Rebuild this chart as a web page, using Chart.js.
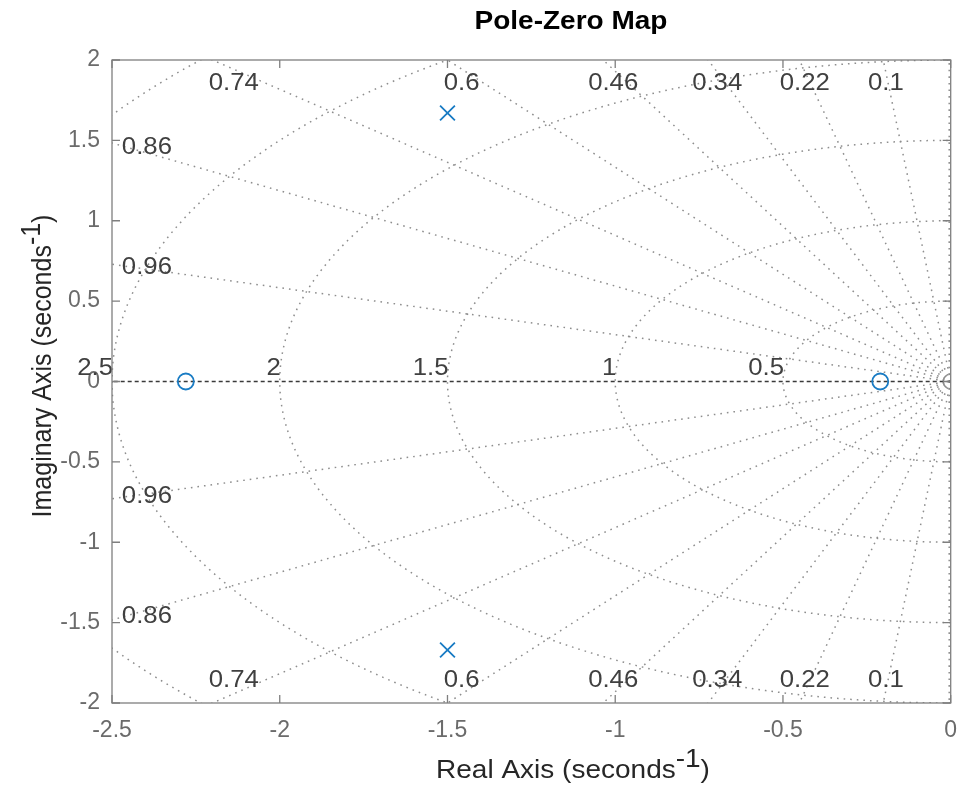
<!DOCTYPE html>
<html><head><meta charset="utf-8">
<script src="https://cdn.jsdelivr.net/npm/chart.js@4/dist/chart.umd.min.js"></script>
<style>html,body{margin:0;padding:0;background:#fff;overflow:hidden}canvas{display:block}</style>
</head><body>
<canvas id="c" width="963" height="786"></canvas>
<script>
// ---- data ----
const poleRe = [-1.5, -1.5];
const poleIm = [1.67, -1.67];
const zeroRe = [-2.28, -0.21];
const zeroIm = [0, 0];
const xTicks = [-2.5, -2, -1.5, -1, -0.5, 0];
const yTicks = [-2, -1.5, -1, -0.5, 0, 0.5, 1, 1.5, 2];
const dampingValues = [0.1, 0.22, 0.34, 0.46, 0.6, 0.74, 0.86, 0.96];
const dampingLabels = ['0.1', '0.22', '0.34', '0.46', '0.6', '0.74', '0.86', '0.96'];
const natFreqValues = [0.5, 1, 1.5, 2, 2.5, 3];
const natFreqLabels = ['0.5', '1', '1.5', '2', '2.5'];

// ---- label anchor layout (data coords, upper half; mirrored below) ----
const dampingLabelAnchors = [[-0.193, 1.851], [-0.435, 1.851], [-0.696, 1.851], [-1.006, 1.851],
  [-1.458, 1.851], [-2.137, 1.851], [-2.396, 1.453], [-2.396, 0.706]];

const FONT = '"Liberation Sans", Arial, Helvetica, sans-serif';
const SX = 1.12;

function sText(ctx, str, x, y, align, sx) {
  ctx.save();
  ctx.translate(x, y);
  ctx.scale(sx, 1);
  ctx.textAlign = align;
  ctx.fillText(str, 0, 0);
  ctx.restore();
}

const gridPlugin = {
  id: 'sgrid',
  beforeDatasetsDraw(chart) {
    const {ctx, chartArea: a, scales: {x, y}} = chart;
    const px = v => x.getPixelForValue(v), py = v => y.getPixelForValue(v);
    ctx.save();
    ctx.beginPath();
    ctx.rect(a.left, a.top, a.right - a.left, a.bottom - a.top);
    ctx.clip();
    ctx.strokeStyle = '#8e8e8e';
    ctx.lineWidth = 1.5;
    ctx.setLineDash([1.6, 5]);
    const R = 8;
    // damping rays
    dampingValues.forEach(z => {
      const s = Math.sqrt(1 - z * z);
      [1, -1].forEach(sg => {
        ctx.beginPath();
        ctx.moveTo(px(0), py(0));
        ctx.lineTo(px(-R * z), py(sg * R * s));
        ctx.stroke();
      });
    });
    // zeta = 0 (imaginary axis)
    [1, -1].forEach(sg => {
      ctx.beginPath();
      ctx.moveTo(px(0) - 1.5, py(0));
      ctx.lineTo(px(0) - 1.5, py(sg * R));
      ctx.stroke();
    });
    // natural frequency semicircles
    natFreqValues.forEach(w => {
      ctx.beginPath();
      for (let i = 0; i <= 360; i++) {
        const t = -Math.PI / 2 + Math.PI * i / 360;
        const xx = px(-w * Math.cos(t)), yy = py(w * Math.sin(t));
        if (i === 0) ctx.moveTo(xx, yy); else ctx.lineTo(xx, yy);
      }
      ctx.stroke();
    });
    // real axis
    ctx.strokeStyle = '#3a3a3a';
    ctx.lineWidth = 1.3;
    ctx.setLineDash([4, 3]);
    ctx.beginPath();
    ctx.moveTo(px(0), py(0));
    ctx.lineTo(px(-R), py(0));
    ctx.stroke();
    ctx.restore();

    // labels
    ctx.save();
    ctx.fillStyle = '#404040';
    ctx.font = '23px ' + FONT;
    ctx.textBaseline = 'middle';
    dampingLabels.forEach((lab, i) => {
      const [lx, ly] = dampingLabelAnchors[i];
      sText(ctx, lab, px(lx), py(ly), 'center', SX);
      sText(ctx, lab, px(lx), py(-ly) + 2, 'center', SX);
    });
    ctx.textBaseline = 'alphabetic';
    natFreqLabels.forEach((lab, i) => {
      sText(ctx, lab, px(-natFreqValues[i]) + 1, py(0) - 7, 'right', SX);
    });
    ctx.restore();
  },
  afterDraw(chart) {
    const {ctx, chartArea: a, scales: {x, y}} = chart;
    ctx.save();
    // box
    ctx.strokeStyle = '#7f7f7f';
    ctx.lineWidth = 1.3;
    ctx.strokeRect(a.left, a.top, a.right - a.left, a.bottom - a.top);
    // inward ticks
    const TL = 8;
    ctx.beginPath();
    xTicks.forEach(v => {
      const p = x.getPixelForValue(v);
      ctx.moveTo(p, a.bottom); ctx.lineTo(p, a.bottom - TL);
      ctx.moveTo(p, a.top); ctx.lineTo(p, a.top + TL);
    });
    yTicks.forEach(v => {
      const p = y.getPixelForValue(v);
      ctx.moveTo(a.left, p); ctx.lineTo(a.left + TL, p);
      ctx.moveTo(a.right, p); ctx.lineTo(a.right - TL, p);
    });
    ctx.stroke();

    // title
    ctx.fillStyle = '#000';
    ctx.font = 'bold 25px ' + FONT;
    ctx.textBaseline = 'alphabetic';
    sText(ctx, 'Pole-Zero Map', 571, 29, 'center', SX);

    // x axis title with superscript
    ctx.fillStyle = '#262626';
    ctx.font = '25px ' + FONT;
    const p1 = 'Real Axis (seconds', p2 = '-1', p3 = ')';
    const w1 = ctx.measureText(p1).width * SX, w2 = ctx.measureText(p2).width * SX, w3 = ctx.measureText(p3).width * SX;
    let sx0 = 573 - (w1 + w2 + w3) / 2;
    sText(ctx, p1, sx0, 778, 'left', SX);
    sText(ctx, p2, sx0 + w1, 767, 'left', SX);
    sText(ctx, p3, sx0 + w1 + w2, 778, 'left', SX);

    // y axis title rotated
    const q1 = 'Imaginary Axis (seconds', q2 = '-1', q3 = ')';
    const v1 = ctx.measureText(q1).width, v2 = ctx.measureText(q2).width, v3 = ctx.measureText(q3).width;
    ctx.save();
    ctx.translate(51, 366);
    ctx.rotate(-Math.PI / 2);
    ctx.scale(1, SX);
    ctx.textAlign = 'left';
    let s0 = -(v1 + v2 + v3) / 2;
    ctx.fillText(q1, s0, 0);
    ctx.fillText(q2, s0 + v1, -10);
    ctx.fillText(q3, s0 + v1 + v2, 0);
    ctx.restore();
    ctx.restore();
  }
};

const fmt = v => String(Math.round(v * 100) / 100);

new Chart(document.getElementById('c').getContext('2d'), {
  type: 'scatter',
  data: {
    datasets: [
      {
        label: 'Poles',
        data: poleRe.map((v, i) => ({x: v, y: poleIm[i]})),
        pointStyle: 'crossRot', pointRadius: 10.5, pointBorderWidth: 1.8,
        borderColor: '#1a7cc4', backgroundColor: '#1a7cc4', showLine: false
      },
      {
        label: 'Zeros',
        data: zeroRe.map((v, i) => ({x: v, y: zeroIm[i]})),
        pointStyle: 'circle', pointRadius: 8, pointBorderWidth: 1.8,
        borderColor: '#1a7cc4', backgroundColor: 'rgba(0,0,0,0)', showLine: false
      }
    ]
  },
  options: {
    responsive: false, animation: false, devicePixelRatio: 1, events: [],
    layout: {padding: {top: 60, right: 11, left: 0, bottom: 0}},
    plugins: {legend: {display: false}, tooltip: {enabled: false}, title: {display: false}},
    scales: {
      x: {
        type: 'linear', min: -2.5, max: 0,
        afterBuildTicks: s => { s.ticks = xTicks.map(v => ({value: v})); },
        afterFit: s => { s.height = 83; s.paddingLeft = 0; s.paddingRight = 0; },
        grid: {display: false, drawTicks: false}, border: {display: false},
        ticks: {font: {family: FONT, size: 23}, color: '#6b6b6b', padding: 14, maxRotation: 0, autoSkip: false, callback: v => fmt(v)}
      },
      y: {
        type: 'linear', min: -2, max: 2,
        afterBuildTicks: s => { s.ticks = yTicks.map(v => ({value: v})); },
        afterFit: s => { s.width = 112; s.paddingTop = 0; s.paddingBottom = 0; },
        grid: {display: false, drawTicks: false}, border: {display: false},
        ticks: {font: {family: FONT, size: 23}, color: '#6b6b6b', padding: 12, autoSkip: false, callback: v => fmt(v)}
      }
    }
  },
  plugins: [gridPlugin]
});
</script>
</body></html>
